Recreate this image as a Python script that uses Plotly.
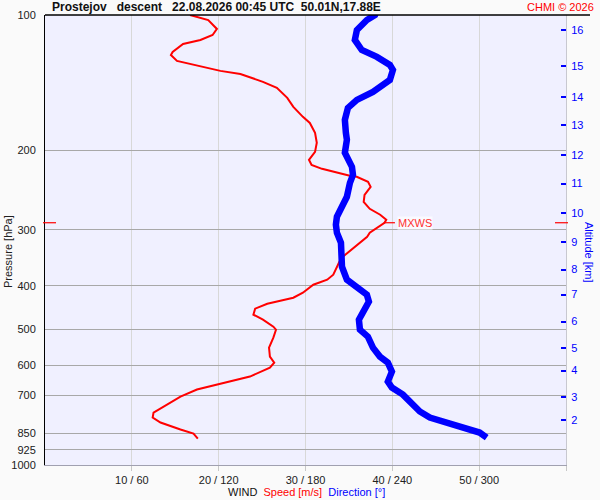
import numpy as np
import plotly.graph_objects as go

# Wind speed profile (m/s) vs pressure (hPa)
speed_p = [100, 102.6, 107.4, 110.8, 113.6, 116.0, 120.8, 122.7, 126.5, 129.1, 133.1, 135.2,
           140.8, 145.2, 152.8, 160.0, 168.4, 173.7, 182.7, 192.3, 201.4, 209.8, 215.3, 219.7,
           223.1, 227.7, 228.9, 234.8, 240.9, 250.9, 260.1, 269.6, 277.9, 285.1, 289.5, 294.0,
           304.7, 311.0, 329.0, 344.5, 353.4, 362.6, 377.7, 387.5, 397.6, 414.1, 424.9, 431.4,
           438.1, 449.4, 463.4, 475.4, 492.8, 500.4, 521.2, 548.5, 574.3, 592.2, 607.5, 636.1,
           659.3, 679.8, 704.6, 734.0, 764.7, 784.5, 804.8, 834.1, 851.4, 873.5]
speed = [16.7, 18.8, 19.8, 19.3, 17.9, 15.9, 14.7, 14.5, 15.2, 17.1, 20.2, 22.5,
         25.1, 26.7, 27.9, 28.6, 29.7, 30.5, 31.1, 31.3, 31.1, 30.4, 30.7, 31.9,
         33.2, 35.1, 35.9, 37.2, 37.5, 36.8, 36.7, 37.4, 38.6, 39.3, 39.1, 38.6,
         37.4, 37.1, 35.5, 34.3, 33.9, 33.6, 33.2, 32.5, 30.9, 29.7, 28.6, 27.1,
         25.6, 24.2, 24.0, 25.1, 26.3, 26.6, 26.3, 25.8, 25.9, 26.4, 25.9, 23.6,
         20.2, 17.5, 15.6, 14.1, 12.5, 12.4, 13.3, 15.6, 17.1, 17.6]

# Wind direction profile (deg) vs pressure (hPa)
dir_p = [97.5, 100, 102.6, 108.0, 113.6, 119.6, 123.9, 129.1, 132.4, 139.4, 148.2, 154.4,
         160.9, 171.0, 182.7, 189.4, 202.4, 206.6, 217.5, 226.5, 236.0, 253.5, 266.8, 280.8,
         292.5, 304.7, 320.7, 341.0, 362.6, 387.5, 403.6, 418.4, 433.6, 456.4, 475.4, 500.4,
         518.5, 548.5, 574.3, 592.2, 620.2, 652.6, 672.9, 697.5, 722.8, 760.6, 784.5, 804.8,
         825.6, 847.1, 869.0]
direction = [229.3, 228.0, 222.4, 215.5, 214.1, 218.9, 229.3, 238.3, 240.4, 238.3, 226.6, 215.5,
             209.3, 207.2, 207.9, 208.6, 207.2, 208.6, 212.1, 212.8, 210.7, 208.6, 205.2, 201.7,
             201.0, 201.7, 204.5, 205.2, 205.2, 208.6, 215.5, 222.4, 223.8, 219.6, 216.9, 217.6,
             223.1, 226.6, 231.4, 236.9, 239.7, 236.9, 239.7, 247.3, 252.1, 259.0, 265.9, 277.6,
             291.4, 300.3, 305.2]

# Axes
p_ticks = [100, 200, 300, 400, 500, 600, 700, 850, 925, 1000]
speed_ticks = [10, 20, 30, 40, 50, 60]
speed_ticktext = ["10 / 60", "20 / 120", "30 / 180", "40 / 240", "50 / 300", ""]
alt_km = [2, 3, 4, 5, 6, 7, 8, 9, 10, 11, 12, 13, 14, 15, 16]
alt_p = [793, 705, 617, 549, 480, 418, 368, 319, 275, 237, 205, 176, 152, 130, 108]

# Max wind
mxws_p = 289.5
mxws_speed = 39.3

FONT = "Liberation Sans, Arial, sans-serif"
L, R, T, B = 45, 34, 15, 35
W, H = 600, 500
PW, PH = W - L - R, H - T - B


def px(xpix):
    return (xpix - L) / PW


def py(ypix):
    return (H - B - ypix) / PH


fig = go.Figure()
fig.add_trace(go.Scatter(x=speed, y=speed_p, mode="lines", xaxis="x", yaxis="y",
                         line=dict(color="#FF0000", width=2), showlegend=False, hoverinfo="skip"))
fig.add_trace(go.Scatter(x=direction, y=dir_p, mode="lines", xaxis="x2", yaxis="y",
                         line=dict(color="#0000FF", width=6.5), showlegend=False, hoverinfo="skip"))
# invisible trace to activate yaxis2
fig.add_trace(go.Scatter(x=[None], y=[None], yaxis="y2", showlegend=False, hoverinfo="skip"))

fig.update_layout(
    width=W, height=H,
    margin=dict(l=L, r=R, t=T, b=B, autoexpand=False),
    paper_bgcolor="#FAFAFA",
    plot_bgcolor="#F0F0FF",
    font=dict(family=FONT, size=11, color="#202020"),
    xaxis=dict(range=[0, 60], tickvals=speed_ticks, ticktext=speed_ticktext,
               showgrid=True, gridcolor="#D8D8D8", gridwidth=1, zeroline=False,
               showline=True, linecolor="#A0A0B0", linewidth=1,
               ticks="outside", ticklen=5, tickcolor="#C8C8C8", automargin=False,
               tickfont=dict(size=11, color="#202020")),
    xaxis2=dict(range=[0, 360], overlaying="x", visible=False),
    yaxis=dict(type="log", range=[np.log10(1000), np.log10(100)],
               tickvals=p_ticks, ticktext=[str(v) for v in p_ticks],
               showgrid=True, gridcolor="#A8A8A8", gridwidth=1, zeroline=False,
               showline=True, linecolor="#000000", linewidth=1,
               ticks="", ticklabelstandoff=6, automargin=False,
               tickfont=dict(size=11, color="#202020")),
    yaxis2=dict(type="log", range=[np.log10(1000), np.log10(100)], overlaying="y", side="right",
                tickvals=alt_p, ticktext=[str(v) for v in alt_km],
                showgrid=False, zeroline=False, automargin=False,
                showline=True, linecolor="#C8C8D0", linewidth=1,
                ticks="inside", ticklen=5, tickcolor="#0000FF", tickwidth=1.5,
                ticklabelstandoff=2,
                tickfont=dict(size=11, color="#0000FF")),
)

shapes = [
    dict(type="line", xref="paper", yref="paper", x0=0, x1=px(590), y0=1, y1=1,
         line=dict(color="#000000", width=1.5)),
    dict(type="line", xref="paper", yref="y", x0=px(43), x1=px(56), y0=mxws_p, y1=mxws_p,
         line=dict(color="#FF0000", width=1.2)),
    dict(type="line", xref="paper", yref="y", x0=px(555), x1=px(568), y0=mxws_p, y1=mxws_p,
         line=dict(color="#FF0000", width=1.2)),
    dict(type="line", xref="x", yref="y", x0=mxws_speed - 0.3, x1=mxws_speed + 1.0,
         y0=mxws_p, y1=mxws_p, line=dict(color="#FF0000", width=1.2)),
]
fig.update_layout(shapes=shapes)

nb = "\u00a0"
ann = [
    dict(text="<b>Prostejov" + nb * 3 + "descent" + nb * 3 + "22.08.2026 00:45 UTC" + nb * 2 + "50.01N,17.88E</b>",
         x=px(50), y=py(7), xanchor="left", yanchor="middle",
         font=dict(size=12, color="#111111")),
    dict(text="CHMI © 2026", x=px(596), y=py(7), xanchor="right", yanchor="middle",
         font=dict(size=11, color="#FF0000")),
    dict(text="Pressure [hPa]", x=px(8), y=py(252), textangle=-90,
         xanchor="center", yanchor="middle", font=dict(size=11, color="#202020")),
    dict(text="Altitude [km]", x=px(589), y=py(252), textangle=90,
         xanchor="center", yanchor="middle", font=dict(size=11, color="#0000FF")),
    dict(text="WIND" + nb * 2 + "<span style='color:#FF0000'>Speed [m/s]</span>" + nb * 2 +
              "<span style='color:#0000FF'>Direction [°]</span>",
         x=px(306), y=py(492), xanchor="center", yanchor="middle",
         font=dict(size=11, color="#111111")),
    dict(text="MXWS", xref="x", yref="y", x=mxws_speed, y=np.log10(mxws_p),
         xanchor="left", yanchor="middle", xshift=11,
         bgcolor="#FAFAFF", borderpad=0,
         font=dict(size=11, color="#FF3030")),
]
for a in ann:
    a.setdefault("xref", "paper")
    a.setdefault("yref", "paper")
    a["showarrow"] = False
fig.update_layout(annotations=ann)

fig.write_html("out.html", config={"displayModeBar": False},
               post_script="document.body.style.margin='0';")
